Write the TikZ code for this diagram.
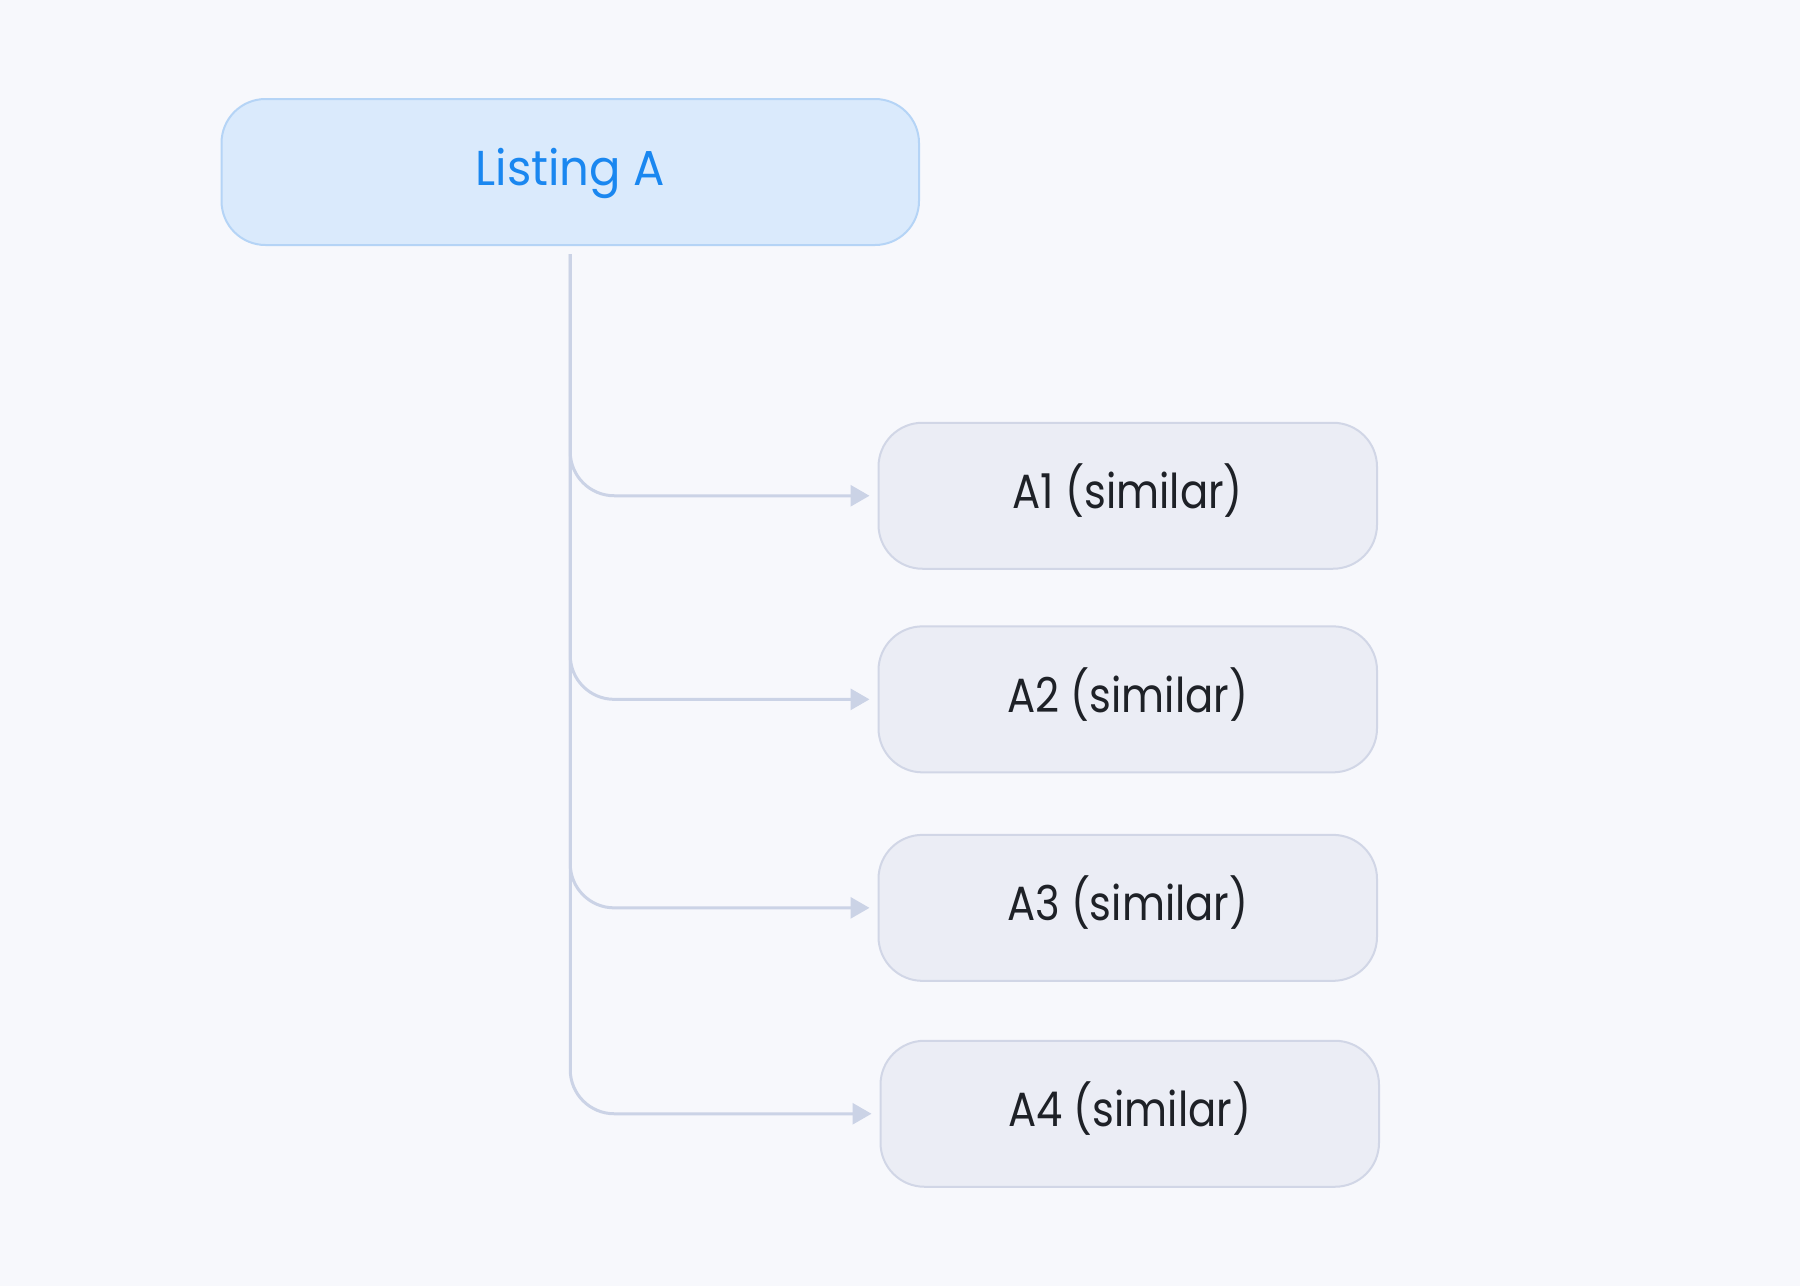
\documentclass[tikz,border=0pt]{standalone}
\usepackage{fontspec}
\setmainfont{Poppins}[FakeStretch=0.9]
\newfontfamily\rootfont{Poppins}[FakeStretch=0.95]
\newfontfamily\kidfont{Poppins}[FakeStretch=0.87]
\usetikzlibrary{arrows.meta}
\definecolor{bgc}{HTML}{F7F8FC}
\definecolor{rootfill}{HTML}{DAEAFC}
\definecolor{rootline}{HTML}{B5D4F6}
\definecolor{roottext}{HTML}{1A87F0}
\definecolor{kidfill}{HTML}{EBEDF5}
\definecolor{kidline}{HTML}{D1D6E6}
\definecolor{kidtext}{HTML}{1E2127}
\definecolor{connc}{HTML}{CBD3E6}
\tikzset{
  box/.style={rectangle, rounded corners=44pt, line width=2pt, inner sep=0pt,
    minimum height=146pt, text height=34pt, text depth=8pt},
  rootbox/.style={box, fill=rootfill, draw=rootline, text=roottext, minimum width=697.5pt,
    font=\rootfont\fontsize{49}{58}\selectfont},
  kidbox/.style={box, fill=kidfill, draw=kidline, text=kidtext, minimum width=498.5pt,
    font=\kidfont\fontsize{48}{58}\selectfont},
  conn/.style={draw=connc, line width=3pt, rounded corners=44pt,
    -{Triangle[length=19pt,width=21pt]}}
}
\begin{document}
\begin{tikzpicture}[x=1pt,y=-1pt]
\fill[bgc] (0,0) rectangle (1800,1286);
\useasboundingbox (0,0) rectangle (1800,1286);
\node[rootbox] (root) at (570.25,172) {Listing A};
\node[kidbox] (a1) at (1127.75,495.75) {A1 (similar)};
\node[kidbox] (a2) at (1127.75,699.35) {A2 (similar)};
\node[kidbox] (a3) at (1127.75,907.85) {A3 (similar)};
\node[kidbox] (a4) at (1129.75,1113.75) {A4 (similar)};
\coordinate (t0) at ([yshift=-8pt]root.south);
\foreach \k in {a4,a3,a2,a1}{
  \draw[conn] (t0) |- ([xshift=-8pt]\k.west);
}
\end{tikzpicture}
\end{document}
